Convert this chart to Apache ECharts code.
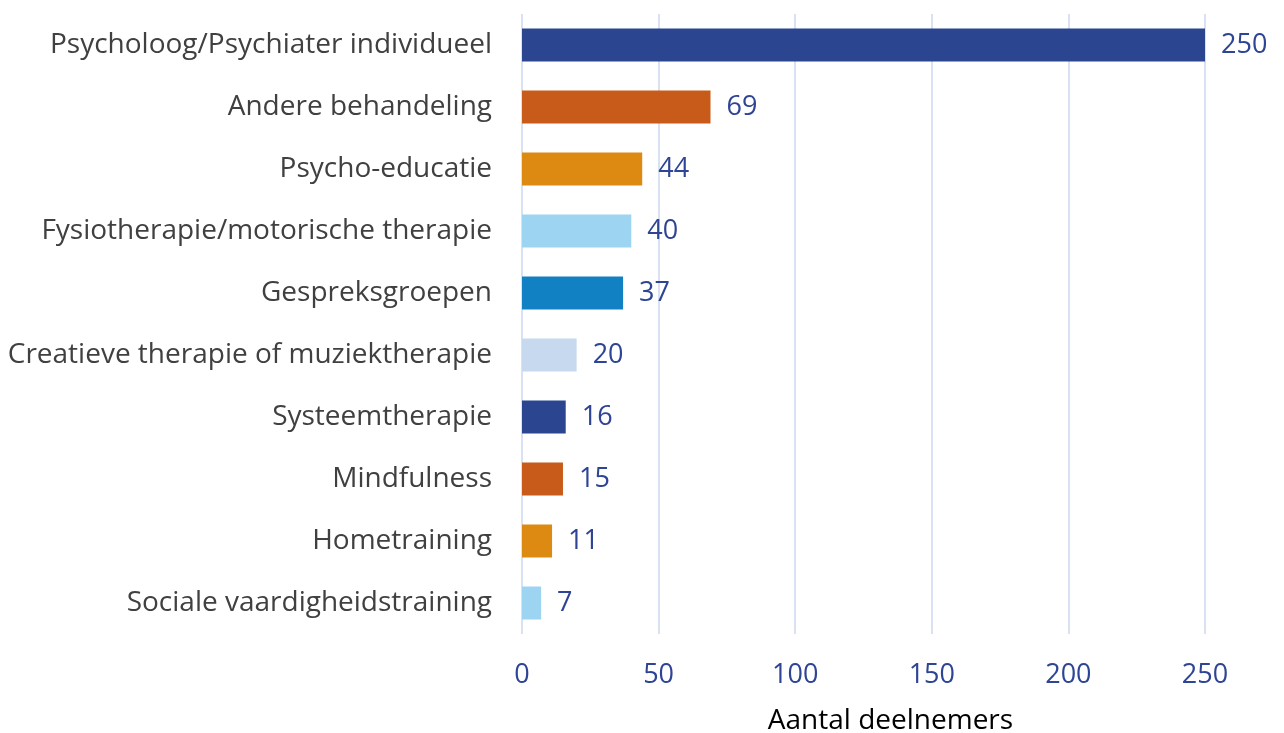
<!DOCTYPE html>
<html>
<head>
<meta charset="utf-8">
<script src="https://cdn.jsdelivr.net/npm/echarts@6/dist/echarts.min.js"></script>
<style>
  html, body { margin: 0; padding: 0; background: #fff; }
  #main { width: 1284px; height: 733px; }
</style>
</head>
<body>
<div id="main"></div>
<script>
var categories = [
  "Psycholoog/Psychiater individueel",
  "Andere behandeling",
  "Psycho-educatie",
  "Fysiotherapie/motorische therapie",
  "Gespreksgroepen",
  "Creatieve therapie of muziektherapie",
  "Systeemtherapie",
  "Mindfulness",
  "Hometraining",
  "Sociale vaardigheidstraining"
];
var values = [250, 69, 44, 40, 37, 20, 16, 15, 11, 7];
var barColors = ["#2B4591", "#C85B19", "#DD8A13", "#9DD4F1", "#1281C4", "#C6D9EF", "#2B4591", "#C85B19", "#DD8A13", "#9DD4F1"];
var xTicks = [0, 50, 100, 150, 200, 250];

var myChart = echarts.init(document.getElementById("main"));
var font = "'Open Sans', sans-serif";

var option = {
  animation: false,
  grid: { left: 522, right: 79, top: 14, bottom: 99, outerBoundsMode: "none" },
  xAxis: {
    type: "value",
    min: xTicks[0],
    max: xTicks[xTicks.length - 1],
    interval: 50,
    name: "Aantal deelnemers",
    nameLocation: "middle",
    nameGap: 73,
    nameTextStyle: { color: "#000", fontSize: 28, fontFamily: font, padding: [0, 0, 0, 54] },
    axisLine: { show: false },
    axisTick: { show: false },
    axisLabel: { color: "#2E4494", fontSize: 27, fontFamily: font, margin: 28 },
    splitLine: { lineStyle: { color: "#D9E1F2", width: 2 } }
  },
  yAxis: {
    type: "category",
    inverse: true,
    data: categories,
    axisLine: { show: false },
    axisTick: { show: false },
    axisLabel: { color: "#404040", fontSize: 28, fontFamily: font, margin: 30 }
  },
  series: [
    {
      type: "bar",
      data: values.map(function (v, i) {
        return { value: v, itemStyle: { color: barColors[i] } };
      }),
      barWidth: 33,
      label: {
        show: true,
        position: "right",
        distance: 16,
        color: "#2E4494",
        fontSize: 27,
        fontFamily: font
      }
    }
  ]
};

myChart.setOption(option);
</script>
</body>
</html>
